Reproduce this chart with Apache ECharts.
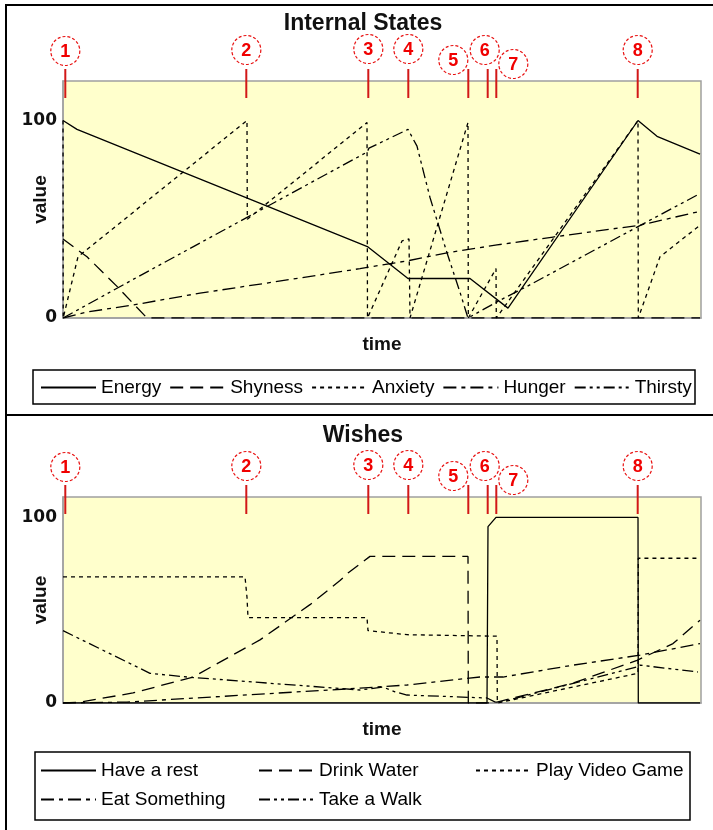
<!DOCTYPE html>
<html>
<head>
<meta charset="utf-8">
<script src="https://cdn.jsdelivr.net/npm/echarts@6/dist/echarts.min.js"></script>
<style>
html, body { margin: 0; padding: 0; background: #fff; }
#chart { width: 713px; height: 830px; }
</style>
</head>
<body>
<div id="chart"></div>
<script>
// time runs 0..638 on both panels
const timeMax = 638;

// numbered events, shared by both panels
const markerTimes = [2.3, 183.3, 305.3, 345.3, 405.3, 424.7, 433.3, 574.7];
const markerNames = ['1', '2', '3', '4', '5', '6', '7', '8'];

// ---- Internal States ----
const stateNames = ['Energy', 'Shyness', 'Anxiety', 'Hunger', 'Thirsty'];
const energy = [[0, 100], [14, 95.5], [305, 36], [345, 20], [407, 20], [445, 5], [575, 100], [594, 92], [637, 83]];
const shyness = [[0, 40], [24, 31], [54, 16], [84, 0], [637, 0]];
const anxiety = [[0, 100], [0.2, 0], [15, 31], [184, 100], [184.3, 50], [304, 99], [304.5, 0],
  [339, 39], [346, 40], [347, 0], [405, 99], [405.3, 0], [433, 25], [433.3, 0],
  [575, 100], [575.3, 0], [597, 31], [637, 47]];
const hunger = [[0, 0], [24, 3], [70, 6.6], [137, 12.6], [204, 17.7], [297, 25], [345, 29],
  [384, 33], [434, 37], [490, 41], [577, 47], [637, 54]];
const thirsty = [[0, 0], [70, 19.5], [304, 84], [306, 86], [345, 95.5], [354, 87], [367, 61],
  [384, 33], [397, 13], [405, 0], [437, 9], [464, 16], [574, 46], [637, 63]];

// ---- Wishes ----
const wishNames = ['Have a rest', 'Drink Water', 'Play Video Game', 'Eat Something', 'Take a Walk'];
const haveRest = [[0, 0], [424, 0], [425, 95], [433, 100], [575, 100], [575.3, 0], [637, 0]];
const drinkWater = [[0, 0], [17, 0.5], [70, 5.4], [130, 14], [197, 34], [247, 53], [277, 66],
  [285, 70], [307, 79], [405, 79], [405.3, 0], [425, 0], [434, 0.5], [510, 10.7], [574, 23],
  [610, 32], [637, 44.6]];
const playGame = [[0, 68], [182, 68], [184, 57], [185, 46], [304, 46], [305, 39], [344, 36.8],
  [434, 36], [434.3, 0], [575, 16], [575.3, 78], [637, 78]];
const eatSomething = [[0, 0], [64, 0.5], [297, 8], [344, 9.7], [417, 14], [440, 14], [510, 20.4],
  [577, 25.8], [637, 32]];
const takeWalk = [[0, 39], [87, 16], [124, 14], [297, 7], [320, 8.6], [332, 6], [344, 4.3],
  [424, 2.7], [434, 0], [574, 19.4], [577, 20.4], [635, 16.7]];

// styles
const dashes = ['solid', [13, 7], [4, 4], [13, 5, 4, 5], [11, 4, 3, 4, 3, 4]];
const badgeOffset = [[0, -18], [0, -19], [0, -20], [0, -20], [-15, -9], [-3, -19], [17, -5], [0, -19]];
const sans = 'Liberation Sans';

var myChart = echarts.init(document.getElementById('chart'), null, { renderer: 'canvas' });

function lineSeries(name, data, idx, axis) {
  return {
    name: name, type: 'line', xAxisIndex: axis, yAxisIndex: axis,
    data: data, symbol: 'none', silent: true,
    lineStyle: { color: '#000', width: 1.3, type: dashes[idx] }
  };
}

function markerSeries(axis) {
  return {
    type: 'custom', xAxisIndex: axis, yAxisIndex: axis, clip: false, silent: true, z: 10,
    data: markerTimes.map((t, i) => [t, i]),
    renderItem: function (params, api) {
      var i = api.value(1);
      var x = api.coord([api.value(0), 0])[0];
      var top = params.coordSys.y;
      var cx = x + badgeOffset[i][0];
      var cy = top - 12 + badgeOffset[i][1];
      return {
        type: 'group',
        children: [
          { type: 'line', shape: { x1: x, y1: top - 12, x2: x, y2: top + 17 },
            style: { stroke: '#d21818', lineWidth: 2 } },
          { type: 'circle', shape: { cx: cx, cy: cy, r: 14.5 },
            style: { fill: '#fff', stroke: '#e81010', lineWidth: 1.2, lineDash: [3, 2] } },
          { type: 'text', x: cx, y: cy + 1,
            style: { text: markerNames[i], align: 'center', verticalAlign: 'middle',
              font: 'bold 18px "Liberation Sans"', fill: '#f00000' } }
        ]
      };
    }
  };
}

function xAxisFor(axis) {
  return {
    gridIndex: axis, type: 'value', min: 0, max: timeMax,
    axisLine: { show: true, lineStyle: { color: '#a0a0a0', width: 1.5 } },
    axisTick: { show: false }, axisLabel: { show: false }, splitLine: { show: false },
    name: 'time', nameLocation: 'middle', nameGap: 17, nameMoveOverlap: false,
    nameTextStyle: { fontFamily: sans, fontWeight: 'bold', fontSize: 19, color: '#111' }
  };
}

function yAxisFor(axis, max) {
  return {
    gridIndex: axis, type: 'value', min: 0, max: max, interval: 100,
    axisLine: { show: true, lineStyle: { color: '#a0a0a0', width: 1.5 } },
    axisTick: { show: false }, splitLine: { show: false },
    axisLabel: {
      margin: 6, fontFamily: 'DejaVu Sans', fontWeight: 'bold', fontSize: 17, color: '#111',
      showMaxLabel: false,
      formatter: function (v) { return (v === 0 || v === 100) ? String(v) : ''; }
    },
    name: 'value', nameLocation: 'middle', nameRotate: 90, nameGap: 13, nameMoveOverlap: false,
    nameTextStyle: { fontFamily: sans, fontWeight: 'bold', fontSize: 19, color: '#111' }
  };
}

var legendText = { fontFamily: sans, fontSize: 19, color: '#000' };
function legendFor(names, left, top, orient) {
  return {
    data: names, left: left, top: top, orient: orient || 'horizontal',
    itemWidth: 55, itemHeight: 14, itemGap: orient === 'vertical' ? 10 : 8,
    selectedMode: false, textStyle: legendText, padding: 0,
    itemStyle: { opacity: 0 }
  };
}

var option = {
  animation: false,
  backgroundColor: '#fff',
  title: [
    { text: 'Internal States', left: 358, textAlign: 'center', top: 7,
      textStyle: { fontFamily: sans, fontWeight: 'bold', fontSize: 23, color: '#111' } },
    { text: 'Wishes', left: 358, textAlign: 'center', top: 419,
      textStyle: { fontFamily: sans, fontWeight: 'bold', fontSize: 23, color: '#111' } }
  ],
  grid: [
    { left: 63, top: 81, width: 638, height: 237, show: true, backgroundColor: '#ffffcc',
      borderColor: '#a0a0a0', borderWidth: 1.5, outerBoundsMode: 'none', containLabel: false },
    { left: 63, top: 497, width: 638, height: 206, show: true, backgroundColor: '#ffffcc',
      borderColor: '#a0a0a0', borderWidth: 1.5, outerBoundsMode: 'none', containLabel: false }
  ],
  xAxis: [xAxisFor(0), xAxisFor(1)],
  yAxis: [yAxisFor(0, 120), yAxisFor(1, 111)],
  legend: [
    legendFor(stateNames, 40, 378),
    legendFor(['Have a rest', 'Eat Something'], 40, 761, 'vertical'),
    legendFor(['Drink Water', 'Take a Walk'], 258, 761, 'vertical'),
    legendFor(['Play Video Game'], 475, 761, 'vertical')
  ],
  graphic: [
    { type: 'rect', shape: { x: 6, y: 5, width: 730, height: 840 },
      style: { fill: 'none', stroke: '#000', lineWidth: 2 }, silent: true },
    { type: 'line', shape: { x1: 6, y1: 415, x2: 713, y2: 415 },
      style: { stroke: '#000', lineWidth: 2 }, silent: true },
    { type: 'rect', shape: { x: 33, y: 370, width: 662, height: 34 },
      style: { fill: 'none', stroke: '#000', lineWidth: 1.5 }, silent: true },
    { type: 'rect', shape: { x: 35, y: 752, width: 655, height: 68 },
      style: { fill: 'none', stroke: '#000', lineWidth: 1.5 }, silent: true }
  ],
  series: [
    lineSeries('Energy', energy, 0, 0),
    lineSeries('Shyness', shyness, 1, 0),
    lineSeries('Anxiety', anxiety, 2, 0),
    lineSeries('Hunger', hunger, 3, 0),
    lineSeries('Thirsty', thirsty, 4, 0),
    markerSeries(0),
    lineSeries('Have a rest', haveRest, 0, 1),
    lineSeries('Drink Water', drinkWater, 1, 1),
    lineSeries('Play Video Game', playGame, 2, 1),
    lineSeries('Eat Something', eatSomething, 3, 1),
    lineSeries('Take a Walk', takeWalk, 4, 1),
    markerSeries(1)
  ]
};
myChart.setOption(option);
</script>
</body>
</html>
